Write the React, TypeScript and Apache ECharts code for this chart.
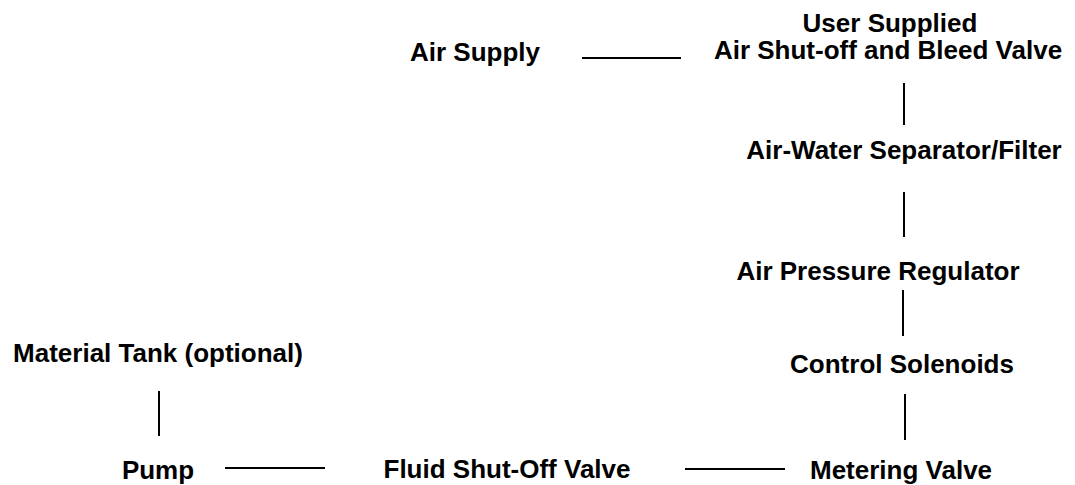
import React, { useEffect, useRef } from "react";
import * as echarts from "echarts";

// Diagram nodes: label and position in diagram units (x right, y down)
const nodeNames = [
  "Air Supply",
  "User Supplied",
  "Air Shut-off and Bleed Valve",
  "Air-Water Separator/Filter",
  "Air Pressure Regulator",
  "Control Solenoids",
  "Metering Valve",
  "Fluid Shut-Off Valve",
  "Pump",
  "Material Tank (optional)",
];
const nodeX = [475, 890, 888, 904, 878, 902, 901, 507, 158, 158];
const nodeY = [52, 23, 49.5, 150, 271, 364, 470, 469, 470, 353];

// Connector segments: [x1, y1, x2, y2]
const connectors: number[][] = [
  [582, 57.5, 681, 57.5],
  [904, 83, 904, 125],
  [904, 192, 904, 237],
  [903, 290, 903, 336],
  [905, 394, 905, 440],
  [685, 469, 785, 469],
  [225, 468, 325, 468],
  [159, 391, 159, 436],
];

const W = 1075;
const H = 485;

export default function App() {
  const ref = useRef<HTMLDivElement>(null);
  useEffect(() => {
    if (!ref.current) return;
    const chart = echarts.init(ref.current, null, { renderer: "svg" });
    chart.setOption({
      animation: false,
      backgroundColor: "#ffffff",
      grid: { left: 0, right: 0, top: 0, bottom: 0 },
      xAxis: { type: "value", min: 0, max: W, show: false },
      yAxis: { type: "value", min: 0, max: H, inverse: true, show: false },
      series: [
        {
          type: "lines",
          coordinateSystem: "cartesian2d",
          silent: true,
          lineStyle: { color: "#000000", width: 2, opacity: 1 },
          data: connectors.map((c) => ({ coords: [[c[0], c[1]], [c[2], c[3]]] })),
        },
        {
          type: "scatter",
          symbolSize: 1,
          silent: true,
          itemStyle: { color: "rgba(0,0,0,0)", opacity: 1 },
          label: {
            show: true,
            position: "inside",
            formatter: (p: any) => p.name,
            color: "#000000",
            opacity: 1,
            textBorderWidth: 0,
            fontFamily: "Liberation Sans, Arial, Helvetica, sans-serif",
            fontWeight: "bold",
            fontSize: 26,
            lineHeight: 26,
            align: "center",
            verticalAlign: "middle",
          },
          data: nodeNames.map((n, i) => ({ name: n, value: [nodeX[i], nodeY[i]] })),
        },
      ],
    });
    return () => chart.dispose();
  }, []);
  return (
    <div
      ref={ref}
      style={{ position: "fixed", left: 0, top: 0, width: W, height: H, background: "#fff" }}
    />
  );
}
